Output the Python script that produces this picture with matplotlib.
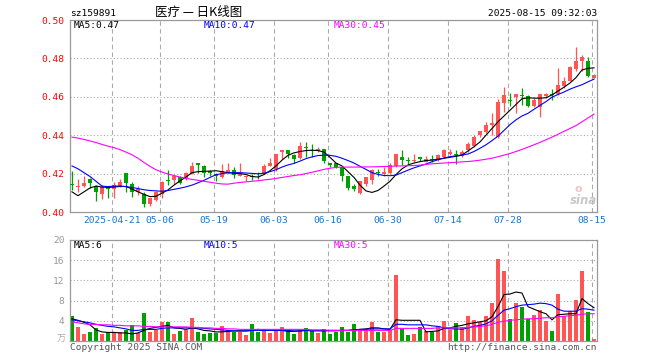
import matplotlib
matplotlib.use("Agg")
import matplotlib.pyplot as plt

# daily candles, 2025-04-10 .. 2025-08-15
opens = [.4145, .4128, .4137, .4170, .4137, .4093, .4128, .4119, .4137, .4202,
         .4146, .4102, .4093, .4040, .4063, .4093, .4167, .4168, .4184, .4175,
         .4198, .4256, .4242, .4212, .4198, .4180, .4205, .4219, .4189, .4180,
         .4183, .4188, .4199, .4242, .4225, .4313, .4321, .4299, .4281, .4339,
         .4320, .4316, .4330, .4255, .4255, .4233, .4189, .4137, .4098, .4145,
         .4166, .4205, .4198, .4203, .4238, .4289, .4266, .4265, .4289, .4259,
         .4273, .4277, .4289, .4303, .4301, .4294, .4321, .4342, .4400, .4417,
         .4453, .4391, .4567, .4582, .4598, .4607, .4605, .4554, .4549, .4605,
         .4614, .4614, .4654, .4684, .4747, .4789, .4789, .4698]
highs = [.4211, .4172, .4189, .4177, .4142, .4140, .4130, .4154, .4172, .4205,
         .4158, .4137, .4102, .4075, .4110, .4160, .4219, .4194, .4187, .4207,
         .4259, .4256, .4245, .4219, .4203, .4250, .4254, .4233, .4254, .4189,
         .4199, .4207, .4251, .4283, .4304, .4321, .4325, .4304, .4365, .4365,
         .4356, .4339, .4330, .4255, .4255, .4233, .4189, .4145, .4163, .4180,
         .4224, .4224, .4233, .4254, .4300, .4321, .4289, .4300, .4289, .4294,
         .4295, .4303, .4330, .4330, .4321, .4324, .4365, .4400, .4423, .4470,
         .4514, .4590, .4650, .4620, .4614, .4645, .4610, .4593, .4614, .4619,
         .4642, .4751, .4702, .4759, .4857, .4817, .4807, .4719]
lows = [.4115, .4102, .4128, .4123, .4058, .4067, .4075, .4075, .4128, .4102,
        .4079, .4088, .4028, .4032, .4058, .4075, .4142, .4145, .4145, .4166,
        .4198, .4201, .4184, .4189, .4163, .4177, .4201, .4175, .4189, .4163,
        .4169, .4172, .4199, .4237, .4216, .4274, .4281, .4257, .4278, .4286,
        .4286, .4313, .4257, .4234, .4228, .4163, .4114, .4107, .4096, .4137,
        .4145, .4189, .4189, .4198, .4233, .4247, .4250, .4259, .4265, .4259,
        .4260, .4268, .4282, .4295, .4251, .4289, .4312, .4338, .4391, .4409,
        .4400, .4388, .4523, .4553, .4515, .4558, .4549, .4549, .4496, .4596,
        .4584, .4610, .4645, .4680, .4733, .4733, .4702, .4698]
closes = [.4143, .4137, .4149, .4149, .4102, .4128, .4118, .4140, .4158, .4149,
          .4105, .4119, .4040, .4075, .4102, .4157, .4164, .4187, .4149, .4201,
          .4242, .4245, .4202, .4205, .4189, .4215, .4219, .4193, .4205, .4189,
          .4180, .4185, .4242, .4255, .4304, .4321, .4300, .4278, .4344, .4335,
          .4316, .4330, .4264, .4243, .4234, .4189, .4124, .4119, .4159, .4180,
          .4219, .4202, .4210, .4245, .4300, .4271, .4264, .4272, .4277, .4277,
          .4270, .4295, .4324, .4312, .4299, .4312, .4352, .4391, .4423, .4452,
          .4465, .4575, .4610, .4580, .4614, .4604, .4554, .4584, .4614, .4614,
          .4608, .4663, .4684, .4754, .4786, .4807, .4707, .4716]

ma5 = [.4105, .4085, .4105, .4125, .4135, .4130, .4128, .4130, .4133, .4133,
       .4120, .4105, .4092, .4080, .4082, .4098, .4115, .4140, .4162, .4182,
       .4205, .4210, .4212, .4213, .4215, .4210, .4205, .4202, .4200, .4195,
       .4185, .4182, .4195, .4215, .4240, .4270, .4295, .4308, .4315, .4320,
       .4322, .4320, .4312, .4285, .4255, .4240, .4210, .4180, .4140, .4110,
       .4102, .4112, .4135, .4160, .4195, .4225, .4245, .4255, .4262, .4268,
       .4270, .4275, .4280, .4285, .4290, .4296, .4318, .4340, .4365, .4400,
       .4435, .4470, .4500, .4530, .4560, .4590, .4595, .4593, .4593, .4595,
       .4610, .4630, .4650, .4672, .4700, .4740, .4748, .4751]
ma10 = [.4240, .4225, .4205, .4185, .4160, .4135, .4132, .4135, .4135, .4132,
        .4128, .4122, .4116, .4112, .4110, .4108, .4112, .4118, .4124, .4131,
        .4140, .4152, .4165, .4180, .4194, .4200, .4204, .4205, .4205, .4203,
        .4201, .4199, .4202, .4210, .4220, .4234, .4245, .4253, .4265, .4278,
        .4287, .4294, .4296, .4295, .4290, .4280, .4268, .4255, .4238, .4222,
        .4205, .4196, .4190, .4189, .4192, .4205, .4218, .4230, .4240, .4250,
        .4262, .4272, .4281, .4288, .4293, .4297, .4302, .4315, .4332, .4350,
        .4372, .4395, .4425, .4455, .4480, .4500, .4514, .4535, .4555, .4575,
        .4598, .4612, .4625, .4640, .4652, .4663, .4678, .4692]
ma30 = [.4390, .4385, .4378, .4370, .4362, .4352, .4343, .4335, .4325, .4312,
        .4298, .4280, .4258, .4238, .4220, .4208, .4198, .4190, .4182, .4175,
        .4170, .4165, .4160, .4155, .4150, .4146, .4145, .4150, .4154, .4157,
        .4160, .4163, .4167, .4170, .4175, .4180, .4185, .4190, .4194, .4200,
        .4207, .4214, .4222, .4228, .4232, .4234, .4234, .4234, .4234, .4235,
        .4235, .4236, .4237, .4238, .4239, .4240, .4241, .4242, .4244, .4248,
        .4251, .4253, .4255, .4257, .4259, .4261, .4263, .4266, .4270, .4275,
        .4280, .4288, .4296, .4305, .4315, .4326, .4338, .4350, .4363, .4376,
        .4390, .4405, .4420, .4435, .4450, .4470, .4490, .4510]

# volume, 万手
volume = [4.9, 2.7, 1.3, 1.7, 2.6, 1.3, 1.7, 1.7, 1.7, 2.1,
          3.2, 1.5, 5.5, 1.7, 2.2, 3.7, 3.7, 1.3, 1.9, 2.1,
          4.5, 1.7, 1.3, 1.5, 1.5, 2.9, 2.1, 1.7, 1.7, 1.1,
          3.3, 1.7, 2.1, 1.5, 1.9, 2.7, 1.9, 1.3, 2.1, 2.5,
          2.1, 1.5, 2.3, 1.3, 1.7, 2.7, 1.7, 3.3, 2.3, 2.3,
          3.7, 1.7, 1.7, 2.1, 13.0, 2.3, 1.1, 1.3, 2.7, 1.9,
          1.7, 2.9, 4.0, 2.1, 3.5, 2.7, 4.9, 4.1, 3.7, 4.9,
          7.5, 16.2, 13.8, 4.3, 7.5, 6.7, 4.3, 5.1, 6.1, 4.0,
          1.9, 9.3, 4.9, 5.9, 8.1, 13.8, 5.7, 0.3]
vma5 = [4.4, 4.1, 3.7, 3.2, 2.2, 1.8, 1.7, 1.7, 1.6, 1.6,
        1.4, 1.6, 2.1, 2.5, 2.7, 2.9, 3.1, 2.6, 2.5, 2.3,
        2.6, 2.4, 2.1, 2.0, 1.8, 1.8, 1.9, 2.0, 2.0, 2.0,
        2.1, 2.3, 2.2, 2.1, 2.1, 2.1, 1.9, 1.9, 2.0, 2.1,
        2.0, 2.0, 2.0, 2.1, 2.1, 2.1, 2.1, 2.2, 2.3, 2.4,
        2.6, 2.6, 2.4, 2.3, 4.2, 4.1, 4.1, 4.1, 4.1, 1.8,
        1.9, 2.0, 2.5, 2.6, 2.9, 3.1, 3.4, 3.6, 3.8, 4.0,
        4.8, 6.8, 9.2, 9.3, 9.7, 9.5, 6.8, 6.3, 5.8, 5.4,
        4.2, 5.2, 5.3, 5.4, 5.4, 8.4, 7.4, 6.6]
vma10 = [4.2, 4.0, 3.8, 3.6, 3.3, 3.1, 2.9, 2.8, 2.6, 2.4,
         2.1, 2.1, 2.3, 2.3, 2.3, 2.5, 2.6, 2.6, 2.6, 2.6,
         2.6, 2.6, 2.5, 2.4, 2.3, 2.2, 2.1, 2.0, 2.0, 2.0,
         2.1, 2.1, 2.1, 2.1, 2.1, 2.1, 2.1, 2.0, 2.0, 2.1,
         2.1, 2.1, 2.1, 2.0, 2.0, 2.1, 2.1, 2.2, 2.3, 2.3,
         2.4, 2.4, 2.4, 2.4, 3.3, 3.3, 3.2, 3.2, 3.2, 3.2,
         3.0, 2.9, 2.6, 2.4, 2.4, 2.3, 2.6, 2.9, 3.1, 3.4,
         4.0, 5.1, 6.1, 6.4, 6.8, 7.1, 7.2, 7.3, 7.5, 7.4,
         7.1, 6.3, 5.9, 5.9, 5.9, 6.4, 6.3, 6.1]
vma30 = [3.8, 3.6, 3.4, 3.3, 3.3, 3.2, 3.2, 3.1, 3.1, 3.0,
         3.0, 3.0, 2.9, 2.9, 2.8, 2.8, 2.8, 2.8, 2.8, 2.8,
         2.7, 2.7, 2.6, 2.6, 2.5, 2.5, 2.4, 2.4, 2.3, 2.3,
         2.3, 2.3, 2.3, 2.3, 2.3, 2.3, 2.3, 2.3, 2.3, 2.3,
         2.2, 2.2, 2.2, 2.1, 2.1, 2.1, 2.1, 2.1, 2.1, 2.1,
         2.1, 2.1, 2.1, 2.1, 2.5, 2.5, 2.5, 2.5, 2.5, 2.5,
         2.5, 2.6, 2.6, 2.6, 2.6, 2.6, 2.7, 2.8, 2.9, 3.0,
         3.3, 3.7, 3.9, 4.1, 4.2, 4.3, 4.4, 4.4, 4.5, 4.6,
         4.6, 4.8, 4.9, 5.0, 5.1, 5.3, 5.4, 5.4]

date_pos = [7, 15, 24, 34, 43, 53, 63, 73, 87]
date_labels = ["2025-04-21", "05-06", "05-19", "06-03", "06-16",
               "06-30", "07-14", "07-28", "08-15"]
price_ticks = [0.40, 0.42, 0.44, 0.46, 0.48, 0.50]
vol_ticks = [4, 8, 12, 16, 20]

UP = "#ff5555"
DOWN = "#00a000"
GRID = "#aaaaaa"
MONO = "DejaVu Sans Mono"
CJK = ["Noto Sans CJK SC", "DejaVu Sans"]
FS = 6.8

W, H = 660, 360
fig = plt.figure(figsize=(W / 100, H / 100), dpi=100)


def px_axes(l, t, r, b):
    return fig.add_axes([l / W, 1 - b / H, (r - l) / W, (b - t) / H])


def ftext(x, y, s, **kw):
    fig.text(x / W, 1 - y / H, s, **kw)


ax = px_axes(70, 20, 597, 212)
axv = px_axes(70, 240, 597, 341)

n = len(closes)
xs = list(range(n))
colors = [UP if c >= o else DOWN for o, c in zip(opens, closes)]

for a in (ax, axv):
    a.set_xlim(-0.33, n - 0.5)
    for sp in a.spines.values():
        sp.set_color("#999999")
        sp.set_linewidth(0.9)
    a.set_xticks([])
    a.tick_params(length=0)
    for p in date_pos:
        a.axvline(p - 0.33, color=GRID, lw=0.8, ls=(0, (4, 3)), zorder=0)

# price panel
ax.set_ylim(0.40, 0.50)
for t in price_ticks[1:-1]:
    ax.axhline(t, color=GRID, lw=0.8, ls=(0, (1, 2)), zorder=0)
ax.set_yticks(price_ticks)
ax.set_yticklabels(["%.2f" % t for t in price_ticks], color="red",
                   fontsize=FS, family=MONO)
ax.tick_params(axis="y", pad=4)

bodies_lo = [min(o, c) for o, c in zip(opens, closes)]
bodies_h = [max(abs(c - o), 0.0005) for o, c in zip(opens, closes)]
ax.vlines(xs, lows, highs, colors=colors, lw=0.9, zorder=2)
ax.bar(xs, bodies_h, bottom=bodies_lo, width=0.8, color=colors, zorder=3)

ax.plot(xs, ma5, color="black", lw=0.8, zorder=4)
ax.plot(xs, ma10, color="#0000ff", lw=0.8, zorder=4)
ax.plot(xs, ma30, color="#ff00ff", lw=0.8, zorder=4)

for p, lab in zip(date_pos, date_labels):
    ax.text(p - 0.33, -0.045, lab, transform=ax.get_xaxis_transform(),
            ha="center", va="center", fontsize=FS, family=MONO,
            color="#1874cd")

# volume panel
axv.set_ylim(0, 20)
for t in vol_ticks[:-1]:
    axv.axhline(t, color=GRID, lw=0.8, ls=(0, (1, 2)), zorder=0)
axv.set_yticks(vol_ticks)
axv.set_yticklabels([str(t) for t in vol_ticks], color="#999999",
                    fontsize=FS, family=MONO)
axv.tick_params(axis="y", pad=4)
axv.bar(xs, volume, width=0.8, color=colors, zorder=2)
axv.plot(xs, vma5, color="black", lw=0.8, zorder=3)
axv.plot(xs, vma10, color="#0000ff", lw=0.8, zorder=3)
axv.plot(xs, vma30, color="#ff00ff", lw=0.8, zorder=3)

# header / labels
ftext(70, 13, "sz159891", fontsize=FS, family=MONO, va="center")
ftext(199, 12, "医疗 — 日K线图", fontsize=9, family=CJK, va="center",
      ha="center")
ftext(597, 13, "2025-08-15 09:32:03", fontsize=FS, family=MONO,
      va="center", ha="right")

ftext(74, 26, "MA5:0.47", fontsize=FS, family=MONO, va="center")
ftext(204, 26, "MA10:0.47", fontsize=FS, family=MONO, va="center",
      color="#0000ff")
ftext(334, 26, "MA30:0.45", fontsize=FS, family=MONO, va="center",
      color="#ff00ff")
ftext(74, 246, "MA5:6", fontsize=FS, family=MONO, va="center")
ftext(204, 246, "MA10:5", fontsize=FS, family=MONO, va="center",
      color="#0000ff")
ftext(334, 246, "MA30:5", fontsize=FS, family=MONO, va="center",
      color="#ff00ff")

ftext(66, 339, "万", fontsize=6.5, family=CJK, va="center", ha="right",
      color="#aaaaaa")
ftext(70, 347, "Copyright 2025 SINA.COM", fontsize=FS, family=MONO,
      va="center", color="#555555")
ftext(597, 347, "http://finance.sina.com.cn", fontsize=FS, family=MONO,
      va="center", ha="right", color="#555555")

# sina watermark
ftext(578, 189, "o", fontsize=8, fontweight="bold", color="#f0c4c4",
      va="center", ha="center")
ftext(597, 200, "sina", fontsize=8.5, fontweight="bold", style="italic",
      color="#c8c8c8", va="center", ha="right")

fig.savefig("out.png", dpi=100)
